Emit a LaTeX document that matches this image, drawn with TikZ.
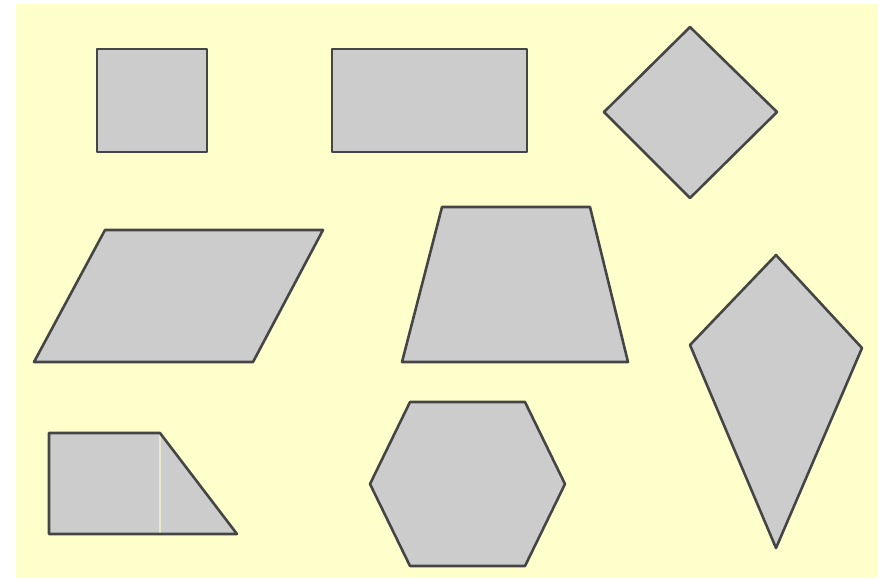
\documentclass[tikz,border=0pt]{standalone}
\usepackage{tikz}

\definecolor{paper}{HTML}{FFFFCC}
\definecolor{shapefill}{HTML}{CCCCCC}
\definecolor{edge}{HTML}{454545}

\tikzset{
  polygon/.style={draw=edge, fill=shapefill, line width=2.2pt, line join=round},
}

\begin{document}
\begin{tikzpicture}[x=0.03cm, y=-0.03cm]

% Page
\useasboundingbox (0,0) rectangle (879,578);
\fill[paper] (16,4) rectangle (878,577);

% Points
\coordinate (S1) at (97,49);
\coordinate (S2) at (207,152);
\coordinate (R1) at (332,49);
\coordinate (R2) at (527,152);
\coordinate (D1) at (690,27);
\coordinate (D2) at (777,112);
\coordinate (D3) at (690,198);
\coordinate (D4) at (604,112);
\coordinate (P1) at (105,230);
\coordinate (P2) at (323,230);
\coordinate (P3) at (253,362);
\coordinate (P4) at (34,362);
\coordinate (T1) at (442,207);
\coordinate (T2) at (590,207);
\coordinate (T3) at (628,362);
\coordinate (T4) at (402,362);
\coordinate (K1) at (776,255);
\coordinate (K2) at (862,348);
\coordinate (K3) at (776,548);
\coordinate (K4) at (690,345);
\coordinate (Q1) at (49,433);
\coordinate (Q2) at (160,433);
\coordinate (Q3) at (237,534);
\coordinate (Q4) at (49,534);
\coordinate (Q5) at (160,534);
\coordinate (H1) at (410,402);
\coordinate (H2) at (525,402);
\coordinate (H3) at (565,484);
\coordinate (H4) at (525,566);
\coordinate (H5) at (410,566);
\coordinate (H6) at (370,484);

% Square and rectangle
\draw[polygon] (S1) rectangle (S2);
\draw[polygon] (R1) rectangle (R2);

% Rhombus
\draw[polygon] (D1) -- (D2) -- (D3) -- (D4) -- cycle;

% Parallelogram
\draw[polygon] (P1) -- (P2) -- (P3) -- (P4) -- cycle;

% Trapezium
\draw[polygon] (T1) -- (T2) -- (T3) -- (T4) -- cycle;

% Kite
\draw[polygon] (K1) -- (K2) -- (K3) -- (K4) -- cycle;

% Right trapezium (split line under the outline)
\fill[shapefill] (Q1) -- (Q2) -- (Q3) -- (Q4) -- cycle;
\draw[paper!55!shapefill, line width=0.9pt] (Q2) -- (Q5);
\draw[polygon, fill=none] (Q1) -- (Q2) -- (Q3) -- (Q4) -- cycle;

% Hexagon
\draw[polygon] (H1) -- (H2) -- (H3) -- (H4) -- (H5) -- (H6) -- cycle;

\end{tikzpicture}
\end{document}
